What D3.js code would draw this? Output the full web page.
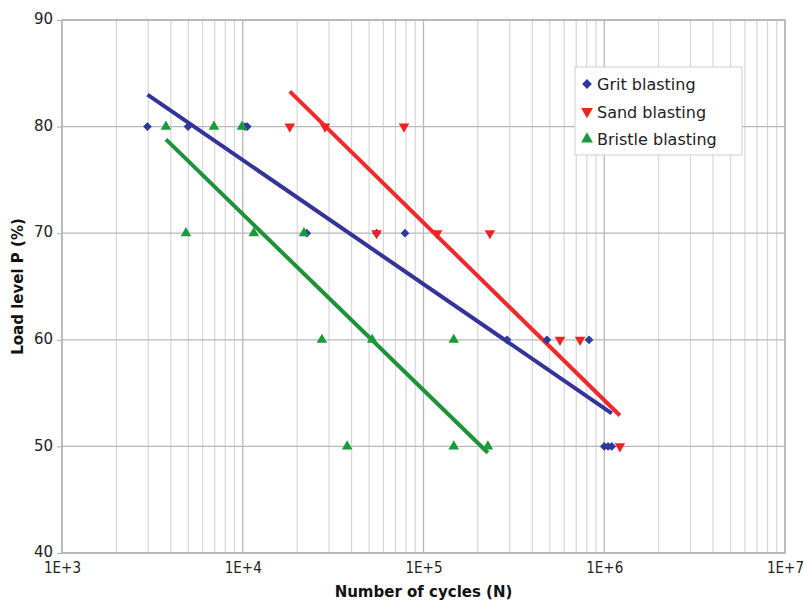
<!DOCTYPE html>
<html>
<head>
<meta charset="utf-8">
<script src="https://cdn.jsdelivr.net/npm/d3@7"></script>
<style>
  body { margin: 0; background: #fff; }
  text { font-family: "DejaVu Sans", sans-serif; }
</style>
</head>
<body>
<div class="plot1"></div>
<script>
// Grit blasting
var gritN = [2970, 4980, 10300, 10600, 22600, 55000, 79000, 290000, 482000, 824000, 1000000, 1050000, 1100000];
var gritP = [80, 80, 80, 80, 70, 70, 70, 60, 60, 60, 50, 50, 50];
// Sand blasting
var sandN = [18200, 28500, 78000, 55000, 119000, 233000, 569000, 735000, 1220000];
var sandP = [80, 80, 80, 70, 70, 70, 60, 60, 50];
// Bristle blasting
var bristleN = [3760, 6930, 9900, 4850, 11500, 21800, 27400, 52000, 147000, 37800, 147000, 227000];
var bristleP = [80, 80, 80, 70, 70, 70, 60, 60, 60, 50, 50, 50];

// trend lines (start / end)
var gritTrendN = [2970, 1100000], gritTrendP = [83.0, 53.1];
var sandTrendN = [18200, 1220000], sandTrendP = [83.3, 52.9];
var bristleTrendN = [3760, 227000], bristleTrendP = [78.8, 49.4];

var xTicks = [1e3, 1e4, 1e5, 1e6, 1e7];
var xTickLabels = ["1E+3", "1E+4", "1E+5", "1E+6", "1E+7"];
var yTicks = [40, 50, 60, 70, 80, 90];

var series = [
  {name: "Grit blasting", n: gritN, p: gritP, tn: gritTrendN, tp: gritTrendP, color: "#2b3a9c", line: "#333399", sym: "diamond"},
  {name: "Sand blasting", n: sandN, p: sandP, tn: sandTrendN, tp: sandTrendP, color: "#ee2222", line: "#ee2a2a", sym: "down"},
  {name: "Bristle blasting", n: bristleN, p: bristleP, tn: bristleTrendN, tp: bristleTrendP, color: "#1a9a3a", line: "#1f9136", sym: "up"}
];

var W = 807, H = 606;
var pLeft = 62, pRight = 785, pTop = 20, pBottom = 553;

var svg = d3.select(".plot1").append("svg")
  .attr("width", W).attr("height", H);

var x = d3.scaleLog().domain([1e3, 1e7]).range([pLeft, pRight]);
var y = d3.scaleLinear().domain([40, 90]).range([pBottom, pTop]);

// minor grid
var minor = [];
for (var d = 1e3; d < 1e7; d *= 10) {
  for (var k = 2; k <= 9; k++) minor.push(d * k);
}
svg.append("g").selectAll("line").data(minor).enter().append("line")
  .attr("x1", function(v) { return x(v); }).attr("x2", function(v) { return x(v); })
  .attr("y1", pTop).attr("y2", pBottom)
  .style("stroke", "#d6d6d6").style("stroke-width", 1.2);

// major grid
svg.append("g").selectAll("line").data(xTicks).enter().append("line")
  .attr("x1", function(v) { return x(v); }).attr("x2", function(v) { return x(v); })
  .attr("y1", pTop).attr("y2", pBottom)
  .style("stroke", "#b8b8b8").style("stroke-width", 1.3);
svg.append("g").selectAll("line").data(yTicks).enter().append("line")
  .attr("x1", pLeft).attr("x2", pRight)
  .attr("y1", function(v) { return y(v); }).attr("y2", function(v) { return y(v); })
  .style("stroke", "#b8b8b8").style("stroke-width", 1.3);

svg.append("rect")
  .attr("x", pLeft).attr("y", pTop).attr("width", pRight - pLeft).attr("height", pBottom - pTop)
  .style("fill", "none").style("stroke", "#b0b0b0").style("stroke-width", 1.3);

// axes
var yAxis = svg.append("g").attr("transform", "translate(" + pLeft + ",0)")
  .call(d3.axisLeft(y).tickValues(yTicks).tickSize(5).tickPadding(4));
var xAxis = svg.append("g").attr("transform", "translate(0," + pBottom + ")")
  .call(d3.axisBottom(x).tickValues(xTicks).tickSize(0).tickPadding(9)
    .tickFormat(function(v, i) { return xTickLabels[i]; }));
[xAxis, yAxis].forEach(function(a) {
  a.select(".domain").remove();
  a.selectAll("line").style("stroke", "#b0b0b0");
  a.selectAll("text").style("font-size", "15px").style("fill", "#222")
    .style("font-family", "DejaVu Sans, sans-serif");
});
xAxis.selectAll("text").style("font-family", "DejaVu Sans Condensed, DejaVu Sans, sans-serif");
yAxis.selectAll("text").attr("dy", "0.25em");

svg.append("text")
  .attr("x", (pLeft + pRight) / 2).attr("y", 597)
  .style("text-anchor", "middle").style("font-weight", "bold").style("font-size", "15px")
  .style("fill", "#111")
  .text("Number of cycles (N)");
svg.append("text")
  .attr("transform", "translate(23," + ((pTop + pBottom) / 2) + ") rotate(-90)")
  .style("text-anchor", "middle").style("font-weight", "bold").style("font-size", "15px")
  .style("fill", "#111")
  .text("Load level P (%)");

function symPath(sym, size) {
  if (sym === "diamond") return d3.symbol().type(d3.symbolSquare).size(size * 0.8)();
  return d3.symbol().type(d3.symbolTriangle).size(size)();
}
function symRot(sym) {
  if (sym === "down") return " rotate(180)";
  if (sym === "diamond") return " rotate(45)";
  return "";
}

// trend lines
series.forEach(function(s) {
  var pts = s.tn.map(function(n, i) { return [x(n), y(s.tp[i])]; });
  svg.append("path")
    .attr("d", d3.line()(pts))
    .style("stroke", s.line).style("stroke-width", 4).style("fill", "none");
});

// points
series.forEach(function(s) {
  svg.append("g").selectAll("path").data(s.n).enter().append("path")
    .attr("d", symPath(s.sym, 48))
    .attr("transform", function(n, i) {
      return "translate(" + x(n) + "," + y(s.p[i]) + ")" + symRot(s.sym);
    })
    .style("fill", s.color);
});

// legend
var lg = svg.append("g");
lg.append("rect").attr("x", 575).attr("y", 67).attr("width", 167).attr("height", 88)
  .style("fill", "#fff").style("stroke", "#d0d0d0").style("stroke-width", 1);
series.forEach(function(s, i) {
  var ly = 84 + i * 27.5;
  lg.append("path").attr("d", symPath(s.sym, 60))
    .attr("transform", "translate(587," + ly + ")" + symRot(s.sym))
    .style("fill", s.color);
  lg.append("text").attr("x", 597).attr("y", ly + 6)
    .style("font-size", "16px").style("fill", "#222")
    .text(s.name);
});
</script>
</body>
</html>
